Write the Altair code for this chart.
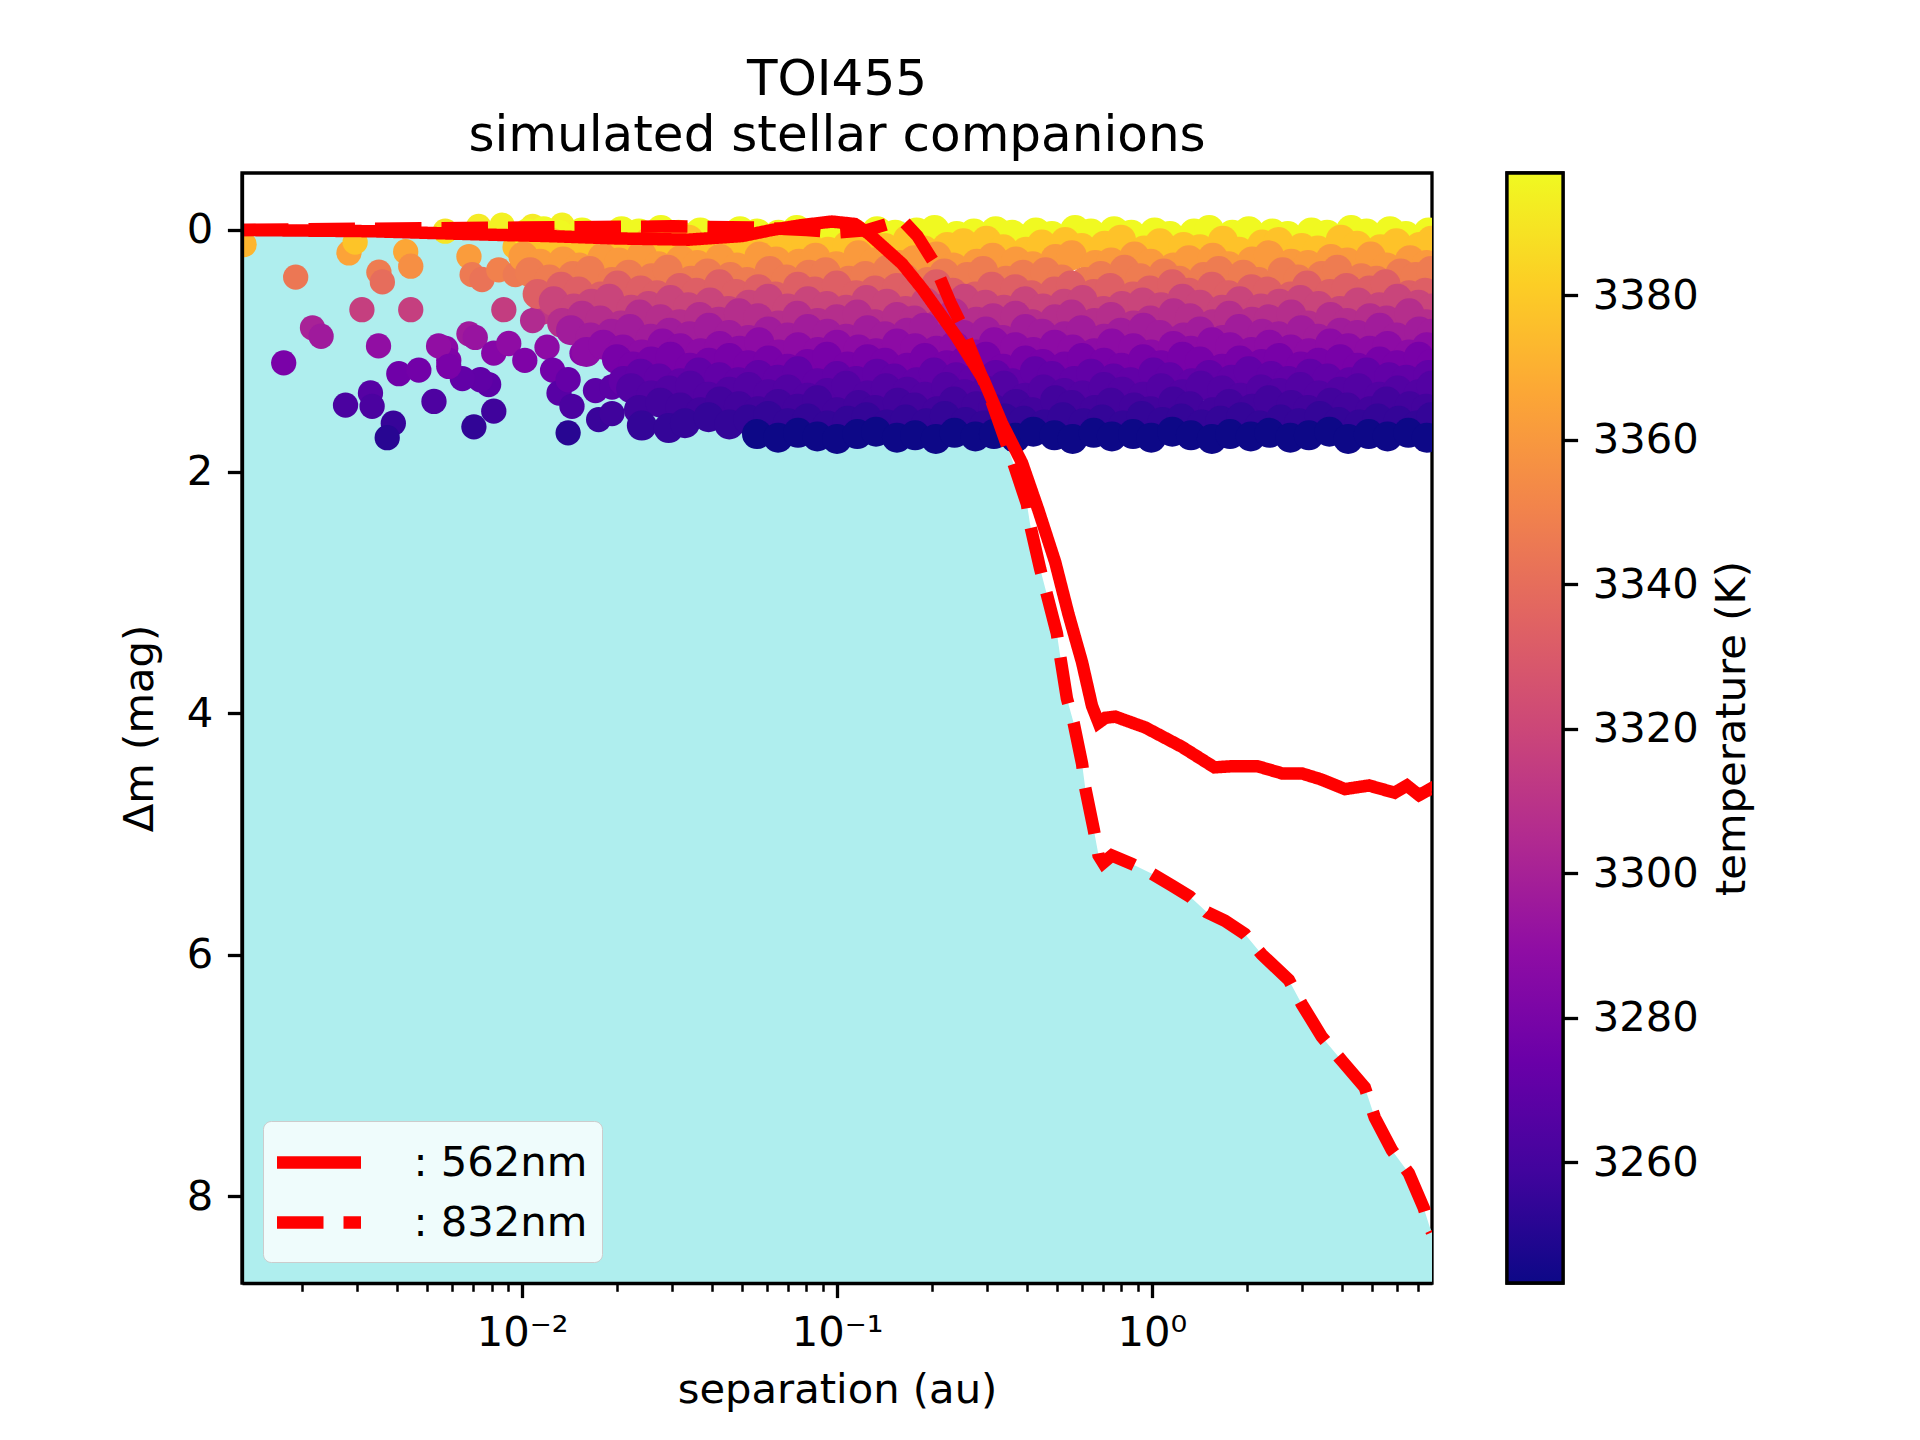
import altair as alt
import pandas as pd

FONT = "DejaVu Sans"
FS = 41.7

# ---------------- contrast curves ----------------
SEP_562 = [0.00129, 0.0033, 0.0082, 0.0120, 0.0200, 0.0338, 0.0500, 0.0620, 0.0770, 0.0963,
           0.114, 0.126, 0.146, 0.161, 0.187, 0.239, 0.292, 0.334, 0.387, 0.436,
           0.493, 0.543, 0.600, 0.645, 0.677, 0.711, 0.765, 0.953, 1.245, 1.58,
           1.81, 2.16, 2.59, 2.99, 3.45, 4.10, 4.89, 5.90, 6.45, 7.05, 7.64, 7.75]
DM_562 = [0.00, 0.01, 0.04, 0.05, 0.07, 0.08, 0.05, 0.00, -0.04, -0.07,
          -0.05, 0.03, 0.18, 0.28, 0.49, 0.88, 1.24, 1.60, 1.93, 2.32,
          2.75, 3.18, 3.58, 3.94, 4.08, 4.04, 4.03, 4.12, 4.28, 4.45,
          4.44, 4.44, 4.50, 4.50, 4.55, 4.63, 4.60, 4.66, 4.60, 4.68, 4.63, 4.65]

SEP_832 = [0.00129, 0.0030, 0.0100, 0.0300, 0.0550, 0.0800, 0.100, 0.125, 0.145, 0.163,
           0.180, 0.201, 0.229, 0.250, 0.262, 0.304, 0.364, 0.401, 0.411, 0.442,
           0.464, 0.499, 0.512, 0.537, 0.564, 0.600, 0.614, 0.653, 0.677, 0.700,
           0.746, 0.864, 1.00, 1.158, 1.32, 1.495, 1.705, 1.973, 2.234, 2.72,
           2.99, 3.46, 4.01, 4.74, 5.10, 5.78, 6.54, 7.30, 7.63, 7.75]
DM_832 = [0.00, -0.01, -0.02, -0.03, -0.02, 0.00, 0.02, 0.00, -0.05, -0.07,
          0.05, 0.25, 0.60, 0.80, 0.95, 1.36, 1.94, 2.27, 2.45, 2.81,
          3.02, 3.34, 3.54, 3.88, 4.08, 4.42, 4.62, 4.96, 5.18, 5.24,
          5.18, 5.25, 5.33, 5.43, 5.52, 5.65, 5.72, 5.83, 6.00, 6.21,
          6.41, 6.68, 6.88, 7.10, 7.35, 7.62, 7.81, 8.10, 8.26, 8.30]

BAND_LABELS = [": 562nm", ": 832nm"]

# ---------------- simulated companions: isolated ones ----------------
SPARSE_SEP = [0.00131, 0.00191, 0.00282, 0.00295, 0.00351, 0.00360, 0.00427, 0.00443, 0.00310, 0.00443,
              0.00216, 0.00230, 0.00175, 0.00350, 0.00406, 0.00470, 0.00275, 0.00330, 0.00334, 0.00525,
              0.00390, 0.00373, 0.00703, 0.00813, 0.00783, 0.00737, 0.00646, 0.00572, 0.00585, 0.00678,
              0.00710, 0.00813, 0.00907, 0.00875, 0.00570, 0.00678, 0.00694, 0.00746, 0.00843, 0.00952,
              0.00728, 0.00864, 0.00950, 0.0108, 0.0134, 0.0116, 0.0131, 0.0147, 0.0119, 0.0148,
              0.0167, 0.0171, 0.0116, 0.0147, 0.0108, 0.0102, 0.0120, 0.0155, 0.0155, 0.0188,
              0.0125, 0.0131, 0.0140, 0.0171, 0.0144, 0.0175, 0.0140, 0.0193, 0.0193, 0.0197,
              0.00543, 0.00585]
SPARSE_DM = [0.12, 0.39, 0.19, 0.10, 0.35, 0.43, 0.18, 0.30, 0.66, 0.66,
             0.81, 0.88, 1.10, 0.96, 1.19, 1.16, 1.45, 1.35, 1.46, 1.42,
             1.60, 1.72, 1.63, 1.50, 1.28, 1.24, 1.23, 0.98, 1.08, 0.86,
             0.89, 1.02, 0.94, 0.66, 0.01, 0.22, 0.37, 0.41, 0.33, 0.37,
             -0.03, -0.04, 0.14, -0.03, -0.04, 0.23, 0.22, 0.33, 0.52, 0.50,
             0.41, 0.55, 0.68, 0.75, 0.75, 1.08, 0.97, 0.88, 1.02, 0.91,
             1.16, 1.35, 1.24, 1.33, 1.46, 1.57, 1.68, 1.30, 1.52, 0.69,
             0.96, 1.13]
SPARSE_T = [3372, 3345, 3365, 3378, 3347, 3340, 3366, 3356, 3316, 3316,
            3300, 3296, 3280, 3290, 3276, 3277, 3262, 3266, 3262, 3263,
            3255, 3250, 3253, 3258, 3268, 3270, 3271, 3287, 3282, 3296,
            3293, 3285, 3289, 3315, 3390, 3362, 3346, 3343, 3350, 3346,
            3392, 3394, 3375, 3392, 3394, 3362, 3361, 3350, 3330, 3331,
            3340, 3326, 3312, 3305, 3305, 3282, 3288, 3295, 3285, 3292,
            3277, 3267, 3272, 3268, 3262, 3256, 3250, 3268, 3258, 3312,
            3290, 3280]

# ---------------- simulated companions: dense band, row by row ----------------
ROW_T = [3396.9, 3377, 3361, 3347, 3333, 3319, 3307, 3297, 3288, 3279, 3271, 3265, 3259, 3254, 3243.3]
ROW_SEP = [
    [0.0104, 0.0117, 0.0131, 0.0155, 0.0176, 0.0207, 0.0235, 0.0276, 0.0314, 0.0368, 0.0419, 0.0492,
     0.0558, 0.0652, 0.0745, 0.0872, 0.101, 0.113, 0.134, 0.153, 0.179, 0.204, 0.240, 0.272, 0.319,
     0.360, 0.428, 0.481, 0.570, 0.640, 0.758, 0.860, 1.02, 1.14, 1.36, 1.52, 1.80, 2.03, 2.41, 2.70,
     3.21, 3.60, 4.29, 4.80, 5.70, 6.40, 7.56],
    [0.0108, 0.0125, 0.0142, 0.0167, 0.0190, 0.0222, 0.0253, 0.0296, 0.0338, 0.0395, 0.0450, 0.0527,
     0.0601, 0.0702, 0.0800, 0.0936, 0.108, 0.126, 0.142, 0.168, 0.189, 0.224, 0.252, 0.298, 0.337,
     0.398, 0.447, 0.530, 0.598, 0.708, 0.797, 0.945, 1.06, 1.26, 1.42, 1.68, 1.89, 2.24, 2.52, 2.99,
     3.36, 3.98, 4.48, 5.31, 5.97, 7.08, 7.72],
    [0.0101, 0.0114, 0.0135, 0.0152, 0.0180, 0.0203, 0.0240, 0.0271, 0.0319, 0.0360, 0.0425, 0.0482,
     0.0567, 0.0641, 0.0757, 0.0855, 0.0995, 0.117, 0.131, 0.157, 0.176, 0.207, 0.234, 0.278, 0.312,
     0.370, 0.418, 0.494, 0.556, 0.661, 0.742, 0.880, 0.990, 1.17, 1.31, 1.56, 1.75, 2.08, 2.35, 2.77,
     3.13, 3.70, 4.17, 4.95, 5.56, 6.60, 7.45],
    [0.0106, 0.0122, 0.0145, 0.0164, 0.0193, 0.0218, 0.0258, 0.0290, 0.0344, 0.0388, 0.0458, 0.0518,
     0.0611, 0.0690, 0.0815, 0.0920, 0.109, 0.123, 0.145, 0.164, 0.194, 0.219, 0.259, 0.291, 0.344,
     0.389, 0.459, 0.517, 0.612, 0.688, 0.818, 0.918, 1.09, 1.22, 1.46, 1.63, 1.95, 2.18, 2.60, 2.91,
     3.46, 3.88, 4.62, 5.16, 6.16, 6.88, 7.70],
    [0.0112, 0.0133, 0.0151, 0.0178, 0.0201, 0.0238, 0.0268, 0.0317, 0.0358, 0.0423, 0.0478, 0.0563,
     0.0637, 0.0751, 0.0850, 0.0998, 0.115, 0.132, 0.155, 0.174, 0.207, 0.233, 0.275, 0.310, 0.368,
     0.414, 0.490, 0.553, 0.653, 0.737, 0.871, 0.985, 1.16, 1.31, 1.55, 1.75, 2.07, 2.33, 2.76, 3.11,
     3.67, 4.15, 4.90, 5.52, 6.55, 7.38],
    [0.0126, 0.0146, 0.0166, 0.0189, 0.0222, 0.0252, 0.0296, 0.0337, 0.0395, 0.0452, 0.0525, 0.0604,
     0.0697, 0.0808, 0.0929, 0.107, 0.124, 0.144, 0.165, 0.191, 0.222, 0.254, 0.296, 0.339, 0.395,
     0.451, 0.526, 0.602, 0.702, 0.803, 0.934, 1.07, 1.25, 1.42, 1.67, 1.90, 2.22, 2.54, 2.96, 3.38,
     3.95, 4.51, 5.27, 6.02, 7.02, 7.74],
    [0.0134, 0.0155, 0.0177, 0.0206, 0.0236, 0.0275, 0.0316, 0.0366, 0.0421, 0.0488, 0.0561, 0.0651,
     0.0748, 0.0868, 0.0998, 0.116, 0.132, 0.155, 0.176, 0.207, 0.235, 0.277, 0.313, 0.369, 0.417,
     0.492, 0.556, 0.656, 0.742, 0.875, 0.988, 1.17, 1.32, 1.56, 1.76, 2.08, 2.35, 2.77, 3.13, 3.69,
     4.17, 4.92, 5.56, 6.56, 7.42],
    [0.0143, 0.0165, 0.0192, 0.0220, 0.0256, 0.0294, 0.0340, 0.0392, 0.0454, 0.0523, 0.0605, 0.0697,
     0.0807, 0.0932, 0.107, 0.125, 0.142, 0.167, 0.189, 0.223, 0.252, 0.297, 0.336, 0.396, 0.448,
     0.528, 0.597, 0.705, 0.796, 0.940, 1.06, 1.26, 1.42, 1.68, 1.89, 2.24, 2.52, 2.98, 3.37, 3.97,
     4.49, 5.29, 5.98, 7.06, 7.75],
    [0.0160, 0.0181, 0.0209, 0.0240, 0.0279, 0.0318, 0.0369, 0.0424, 0.0490, 0.0566, 0.0653, 0.0752,
     0.0870, 0.100, 0.117, 0.133, 0.155, 0.177, 0.207, 0.236, 0.276, 0.315, 0.368, 0.420, 0.491,
     0.560, 0.655, 0.746, 0.873, 0.995, 1.17, 1.33, 1.55, 1.77, 2.07, 2.36, 2.76, 3.15, 3.68, 4.20,
     4.91, 5.60, 6.55, 7.46],
    [0.0200, 0.0225, 0.0257, 0.0296, 0.0341, 0.0392, 0.0455, 0.0522, 0.0606, 0.0697, 0.0806, 0.0930,
     0.108, 0.125, 0.142, 0.167, 0.190, 0.223, 0.253, 0.297, 0.337, 0.396, 0.450, 0.528, 0.600,
     0.704, 0.800, 0.938, 1.07, 1.25, 1.42, 1.67, 1.90, 2.23, 2.53, 2.97, 3.38, 3.96, 4.50, 5.28,
     6.00, 7.04, 7.74],
    [0.0210, 0.0238, 0.0272, 0.0318, 0.0364, 0.0423, 0.0486, 0.0563, 0.0648, 0.0751, 0.0866, 0.100,
     0.115, 0.134, 0.152, 0.179, 0.203, 0.239, 0.271, 0.319, 0.361, 0.425, 0.481, 0.566, 0.641,
     0.755, 0.855, 1.01, 1.14, 1.34, 1.52, 1.79, 2.03, 2.39, 2.71, 3.18, 3.61, 4.24, 4.81, 5.66,
     6.42, 7.55],
    [0.0222, 0.0257, 0.0293, 0.0342, 0.0390, 0.0455, 0.0524, 0.0604, 0.0698, 0.0806, 0.0931, 0.107,
     0.125, 0.143, 0.167, 0.190, 0.222, 0.254, 0.296, 0.339, 0.395, 0.452, 0.527, 0.603, 0.703,
     0.805, 0.937, 1.07, 1.25, 1.43, 1.67, 1.91, 2.22, 2.54, 2.96, 3.39, 3.95, 4.52, 5.27, 6.03,
     7.03, 7.72],
    [0.0235, 0.0275, 0.0318, 0.0368, 0.0425, 0.0488, 0.0561, 0.0650, 0.0750, 0.0866, 0.100, 0.117,
     0.132, 0.156, 0.176, 0.208, 0.235, 0.277, 0.313, 0.370, 0.417, 0.493, 0.556, 0.658, 0.742,
     0.877, 0.990, 1.17, 1.32, 1.56, 1.76, 2.08, 2.35, 2.77, 3.13, 3.70, 4.17, 4.93, 5.56, 6.58, 7.42],
    [0.0240, 0.0292, 0.0329, 0.0391, 0.0455, 0.0522, 0.0604, 0.0698, 0.0806, 0.0931, 0.108, 0.124,
     0.144, 0.165, 0.192, 0.220, 0.256, 0.293, 0.341, 0.391, 0.455, 0.521, 0.607, 0.695, 0.810,
     0.928, 1.08, 1.24, 1.44, 1.65, 1.92, 2.20, 2.56, 2.93, 3.41, 3.91, 4.55, 5.21, 6.07, 6.95, 7.70],
    [0.0557, 0.0650, 0.0752, 0.0866, 0.100, 0.116, 0.133, 0.155, 0.177, 0.206, 0.236, 0.275,
     0.315, 0.368, 0.420, 0.490, 0.560, 0.653, 0.746, 0.871, 0.995, 1.16, 1.33, 1.55, 1.77, 2.06,
     2.36, 2.75, 3.15, 3.66, 4.20, 4.88, 5.60, 6.52, 7.46],
]
ROW_DM = [
    [0.03, 0.01, 0.04, 0.02, 0.05, 0.01, 0.03, 0.00, 0.04, 0.02, 0.05, 0.01, 0.03, 0.04, 0.00, 0.02,
     0.05, 0.03, 0.01, 0.04, 0.02, 0.00, 0.05, 0.03, 0.01, 0.04, 0.02, 0.05, 0.00, 0.03, 0.01, 0.04,
     0.02, 0.05, 0.03, 0.00, 0.04, 0.01, 0.03, 0.05, 0.02, 0.04, 0.00, 0.03, 0.01, 0.05, 0.02],
    [0.16, 0.11, 0.17, 0.09, 0.14, 0.18, 0.10, 0.13, 0.08, 0.15, 0.17, 0.12, 0.09, 0.16, 0.11, 0.18,
     0.13, 0.10, 0.15, 0.08, 0.17, 0.14, 0.11, 0.09, 0.16, 0.18, 0.12, 0.10, 0.15, 0.13, 0.08, 0.17,
     0.11, 0.14, 0.16, 0.09, 0.18, 0.12, 0.10, 0.15, 0.17, 0.08, 0.13, 0.16, 0.11, 0.14, 0.09],
    [0.22, 0.28, 0.26, 0.31, 0.23, 0.27, 0.21, 0.30, 0.25, 0.29, 0.24, 0.31, 0.22, 0.26, 0.28, 0.23,
     0.30, 0.21, 0.27, 0.29, 0.25, 0.22, 0.31, 0.28, 0.23, 0.26, 0.30, 0.24, 0.21, 0.29, 0.27, 0.22,
     0.28, 0.31, 0.25, 0.23, 0.30, 0.26, 0.21, 0.28, 0.29, 0.24, 0.27, 0.22, 0.31, 0.25, 0.29],
    [0.35, 0.41, 0.38, 0.34, 0.43, 0.37, 0.40, 0.33, 0.42, 0.36, 0.39, 0.43, 0.34, 0.41, 0.37, 0.35,
     0.42, 0.38, 0.33, 0.40, 0.43, 0.36, 0.39, 0.34, 0.42, 0.37, 0.35, 0.41, 0.43, 0.38, 0.33, 0.40,
     0.36, 0.42, 0.39, 0.34, 0.37, 0.43, 0.35, 0.41, 0.38, 0.33, 0.40, 0.42, 0.36, 0.39, 0.34],
    [0.53, 0.47, 0.51, 0.55, 0.46, 0.50, 0.54, 0.48, 0.52, 0.45, 0.53, 0.49, 0.55, 0.47, 0.51, 0.46,
     0.54, 0.50, 0.48, 0.53, 0.45, 0.52, 0.55, 0.47, 0.49, 0.54, 0.51, 0.46, 0.53, 0.48, 0.55, 0.50,
     0.45, 0.52, 0.47, 0.54, 0.49, 0.51, 0.55, 0.46, 0.53, 0.48, 0.50, 0.45, 0.54, 0.52],
    [0.59, 0.65, 0.61, 0.57, 0.66, 0.63, 0.58, 0.64, 0.60, 0.67, 0.62, 0.57, 0.65, 0.59, 0.63, 0.66,
     0.58, 0.61, 0.67, 0.60, 0.64, 0.57, 0.62, 0.66, 0.59, 0.65, 0.61, 0.58, 0.67, 0.63, 0.60, 0.64,
     0.57, 0.62, 0.66, 0.59, 0.65, 0.61, 0.58, 0.63, 0.67, 0.60, 0.64, 0.57, 0.62, 0.65],
    [0.77, 0.71, 0.75, 0.79, 0.70, 0.74, 0.78, 0.72, 0.76, 0.69, 0.73, 0.79, 0.71, 0.77, 0.74, 0.70,
     0.78, 0.72, 0.75, 0.79, 0.69, 0.76, 0.73, 0.71, 0.78, 0.74, 0.70, 0.77, 0.72, 0.79, 0.75, 0.69,
     0.73, 0.78, 0.71, 0.76, 0.74, 0.70, 0.79, 0.72, 0.77, 0.73, 0.75, 0.69, 0.78],
    [0.83, 0.89, 0.86, 0.82, 0.90, 0.85, 0.88, 0.81, 0.87, 0.91, 0.84, 0.89, 0.82, 0.86, 0.90, 0.83,
     0.88, 0.85, 0.81, 0.89, 0.87, 0.84, 0.91, 0.82, 0.86, 0.88, 0.83, 0.90, 0.85, 0.81, 0.87, 0.89,
     0.84, 0.91, 0.82, 0.86, 0.88, 0.83, 0.90, 0.85, 0.87, 0.81, 0.89, 0.84, 0.86],
    [1.01, 0.95, 0.99, 1.03, 0.94, 0.98, 1.02, 0.96, 1.00, 0.93, 1.03, 0.97, 1.01, 0.95, 0.99, 1.02,
     0.94, 0.98, 1.00, 0.96, 1.03, 0.93, 0.97, 1.01, 0.95, 0.99, 1.02, 0.94, 0.98, 1.03, 0.96, 1.00,
     0.93, 0.97, 1.01, 0.95, 0.99, 1.02, 0.94, 0.98, 1.00, 0.96, 1.03, 0.97],
    [1.07, 1.13, 1.09, 1.05, 1.14, 1.10, 1.06, 1.12, 1.08, 1.15, 1.11, 1.05, 1.13, 1.07, 1.10, 1.14,
     1.06, 1.12, 1.09, 1.05, 1.15, 1.08, 1.11, 1.13, 1.06, 1.10, 1.14, 1.07, 1.12, 1.05, 1.09, 1.15,
     1.08, 1.11, 1.06, 1.13, 1.10, 1.07, 1.14, 1.09, 1.12, 1.05, 1.11],
    [1.25, 1.19, 1.23, 1.27, 1.18, 1.22, 1.26, 1.20, 1.24, 1.17, 1.27, 1.21, 1.25, 1.19, 1.23, 1.26,
     1.18, 1.22, 1.24, 1.20, 1.27, 1.17, 1.21, 1.25, 1.19, 1.23, 1.26, 1.18, 1.22, 1.27, 1.20, 1.24,
     1.17, 1.21, 1.25, 1.19, 1.23, 1.26, 1.18, 1.22, 1.24, 1.20],
    [1.31, 1.37, 1.33, 1.29, 1.38, 1.34, 1.30, 1.36, 1.32, 1.39, 1.35, 1.29, 1.37, 1.31, 1.34, 1.38,
     1.30, 1.36, 1.33, 1.29, 1.39, 1.32, 1.35, 1.37, 1.30, 1.34, 1.38, 1.31, 1.36, 1.29, 1.33, 1.39,
     1.32, 1.35, 1.30, 1.37, 1.34, 1.31, 1.38, 1.33, 1.36, 1.29],
    [1.49, 1.43, 1.47, 1.51, 1.42, 1.46, 1.50, 1.44, 1.48, 1.41, 1.51, 1.45, 1.49, 1.43, 1.47, 1.50,
     1.42, 1.46, 1.48, 1.44, 1.51, 1.41, 1.45, 1.49, 1.43, 1.47, 1.50, 1.42, 1.46, 1.51, 1.44, 1.48,
     1.41, 1.45, 1.49, 1.43, 1.47, 1.50, 1.42, 1.46, 1.48],
    [1.62, 1.64, 1.60, 1.55, 1.61, 1.57, 1.54, 1.60, 1.56, 1.62, 1.58, 1.55, 1.61, 1.57, 1.60, 1.54,
     1.59, 1.62, 1.56, 1.58, 1.61, 1.55, 1.60, 1.57, 1.62, 1.54, 1.59, 1.56, 1.61, 1.58, 1.55, 1.62,
     1.57, 1.60, 1.54, 1.59, 1.61, 1.56, 1.58, 1.62, 1.55],
    [1.69, 1.72, 1.68, 1.71, 1.73, 1.69, 1.67, 1.72, 1.70, 1.73, 1.68, 1.71, 1.69, 1.72, 1.67, 1.70,
     1.73, 1.68, 1.71, 1.69, 1.72, 1.67, 1.70, 1.73, 1.69, 1.71, 1.68, 1.72, 1.70, 1.67, 1.73, 1.69,
     1.71, 1.68, 1.72],
]

# ---------------- axes / colour bar settings ----------------
X_DOMAIN = [0.00129, 7.75]
Y_DOMAIN = [-0.472, 8.72]
T_DOMAIN = [3243.3, 3396.9]
X_TICKS = [0.002, 0.003, 0.004, 0.005, 0.006, 0.007, 0.008, 0.009,
           0.01, 0.02, 0.03, 0.04, 0.05, 0.06, 0.07, 0.08, 0.09,
           0.1, 0.2, 0.3, 0.4, 0.5, 0.6, 0.7, 0.8, 0.9,
           1, 2, 3, 4, 5, 6, 7]
Y_TICKS = [0, 2, 4, 6, 8]
T_TICKS = [3260, 3280, 3300, 3320, 3340, 3360, 3380]
PLASMA_STOPS = ["#0d0887", "#41049d", "#6a00a8", "#8f0da4", "#b12a90", "#cc4778",
                "#e16462", "#f2844b", "#fca636", "#fcce25", "#f0f921"]

W, H = 1190, 1110

# ---------------- tables ----------------
sparse = pd.DataFrame({"sep": SPARSE_SEP, "dm": SPARSE_DM, "temp": SPARSE_T})
band_rows = []
for seps, dms, t in zip(ROW_SEP, ROW_DM, ROW_T):
    for s, d in zip(seps, dms):
        band_rows.append({"sep": s, "dm": d, "temp": t})
band = pd.DataFrame(band_rows)

curves = pd.concat([
    pd.DataFrame({"sep": SEP_562, "dm": DM_562, "band": BAND_LABELS[0]}),
    pd.DataFrame({"sep": SEP_832, "dm": DM_832, "band": BAND_LABELS[1]}),
], ignore_index=True)
fill = pd.DataFrame({"sep": SEP_832, "dm": DM_832})

major = "datum.value == 0.01 || datum.value == 0.1 || datum.value == 1"
x_scale = alt.Scale(type="log", domain=X_DOMAIN, nice=False)
y_scale = alt.Scale(domain=Y_DOMAIN, reverse=True, nice=False, zero=False)
t_scale = alt.Scale(scheme="plasma", domain=T_DOMAIN)
x_axis = alt.Axis(
    values=X_TICKS, title="separation (au)", grid=False,
    labelExpr="datum.value == 0.01 ? '10⁻²' : datum.value == 0.1 ? '10⁻¹' : datum.value == 1 ? '10⁰' : ''",
    tickSize={"condition": {"test": major, "value": 14.6}, "value": 8.3},
    tickWidth={"condition": {"test": major, "value": 3.3}, "value": 2.5},
    tickColor="black", domainColor="black", domainWidth=3.3,
    labelFont=FONT, labelFontSize=FS, labelColor="black", labelPadding=14.6,
    labelOverlap=False, labelFlush=False,
    titleFont=FONT, titleFontSize=FS, titleFontWeight="normal", titleColor="black",
    titlePadding=16, zindex=1,
)
y_axis = alt.Axis(
    values=Y_TICKS, title="Δm (mag)", grid=False,
    tickSize=14.6, tickWidth=3.3, tickColor="black",
    domainColor="black", domainWidth=3.3,
    labelFont=FONT, labelFontSize=FS, labelColor="black", labelPadding=14.6,
    titleFont=FONT, titleFontSize=FS, titleFontWeight="normal", titleColor="black",
    titlePadding=25, zindex=1,
)

X = alt.X("sep:Q", scale=x_scale, axis=x_axis)
Y = alt.Y("dm:Q", scale=y_scale, axis=y_axis)

# region below the 832nm curve (down to the bottom of the axes)
area = alt.Chart(fill).mark_area(color="#afeeee", opacity=1, clip=True, orient="vertical").encode(
    x=X, y=Y, y2=alt.Y2Datum(Y_DOMAIN[1])
)

sparse_pts = alt.Chart(sparse).mark_circle(size=640, opacity=1, clip=True).encode(
    x=X, y=Y, color=alt.Color("temp:Q", scale=t_scale, legend=None),
)
band_pts = alt.Chart(band).mark_circle(size=900, opacity=1, clip=True).encode(
    x=X, y=Y, color=alt.Color("temp:Q", scale=t_scale, legend=None),
)

lines = alt.Chart(curves).mark_line(color="red", strokeWidth=12.5, clip=True, strokeCap="butt").encode(
    x=X, y=Y,
    strokeDash=alt.StrokeDash(
        "band:N",
        scale=alt.Scale(domain=BAND_LABELS, range=[[1, 0], [46.5, 20]]),
        legend=alt.Legend(
            title=None, orient="bottom-left", offset=21, padding=14,
            symbolType="M-2,0H2", symbolSize=1764, symbolStrokeWidth=12.5,
            symbolOffset=14.5, symbolStrokeColor="red",
            labelFont=FONT, labelFontSize=FS, labelColor="black",
            labelOffset=67, labelLimit=400, rowPadding=7,
            fillColor="rgba(255,255,255,0.8)", strokeColor="#cccccc", cornerRadius=8,
        ),
    ),
)

main = alt.layer(area, sparse_pts, band_pts, lines).properties(
    width=W, height=H,
    title=alt.TitleParams(
        text=["TOI455", "simulated stellar companions"], font=FONT, fontSize=50,
        fontWeight="normal", color="black", lineHeight=56, offset=-37.5,
        baseline="bottom", anchor="middle", frame="group",
    ),
)

cbar_df = pd.DataFrame({"tmin": [T_DOMAIN[0]], "tmax": [T_DOMAIN[1]]})
gradient = {
    "gradient": "linear", "x1": 0, "y1": 1, "x2": 0, "y2": 0,
    "stops": [{"offset": i / (len(PLASMA_STOPS) - 1), "color": c} for i, c in enumerate(PLASMA_STOPS)],
}
cbar = alt.Chart(cbar_df).mark_rect(fill=gradient, stroke="black", strokeWidth=3.3).encode(
    y=alt.Y("tmin:Q", scale=alt.Scale(domain=T_DOMAIN, nice=False, zero=False),
            axis=alt.Axis(orient="right", values=T_TICKS, format="d", title="temperature (K)",
                          grid=False, domain=False, tickSize=14.6, tickWidth=3.3, tickColor="black",
                          labelFont=FONT, labelFontSize=FS, labelColor="black", labelPadding=14.6,
                          titleFont=FONT, titleFontSize=FS, titleFontWeight="normal",
                          titleColor="black", titleAngle=270, titleBaseline="top",
                          titlePadding=13)),
    y2="tmax:Q",
    x=alt.value(0), x2=alt.value(56),
).properties(width=56, height=H)

chart = alt.hconcat(main, cbar, spacing=75, bounds="flush").properties(
    padding={"left": 109, "top": 44, "right": 20, "bottom": 10}
).configure(font=FONT).configure_view(stroke="black", strokeWidth=3.3)

chart.save("out.html", embed_options={"renderer": "svg", "actions": False})
